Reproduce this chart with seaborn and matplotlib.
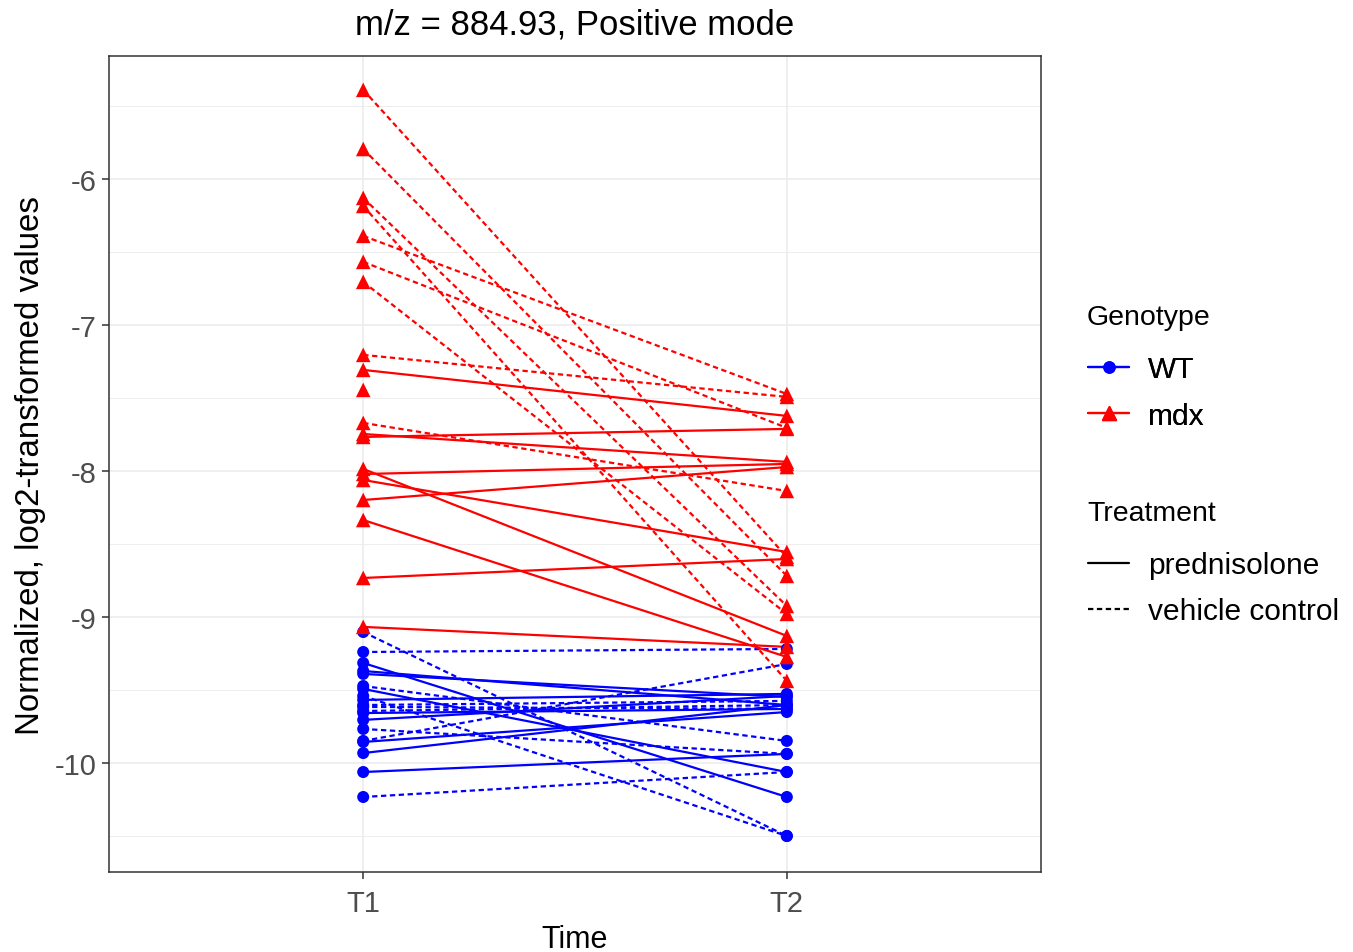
import numpy as np
import pandas as pd
import matplotlib
matplotlib.use("Agg")
import matplotlib.pyplot as plt
import seaborn as sns
from matplotlib.lines import Line2D
from matplotlib.ticker import MultipleLocator

# one value per animal at T1 and T2
times = ["T1", "T2"]
genotypes = ["WT", "mdx"]
treatments = ["prednisolone", "vehicle control"]

wt_pred_t1 = [-9.315, -9.370, -9.390, -9.493, -9.658, -9.705, -9.856, -9.932, -10.062, -9.568]
wt_pred_t2 = [-10.233, -9.603, -9.548, -10.062, -9.630, -9.541, -9.651, -9.603, -9.938, -9.527]
wt_veh_t1 = [-9.103, -9.240, -9.473, -9.541, -9.603, -9.616, -9.767, -9.849, -10.233, -9.644]
wt_veh_t2 = [-10.500, -9.219, -9.849, -10.500, -9.575, -9.630, -9.938, -9.322, -10.062, -9.603]

mdx_pred_t1 = [-7.308, -7.747, -7.767, -7.986, -8.021, -8.062, -8.199, -8.336, -8.733, -9.068]
mdx_pred_t2 = [-7.623, -7.938, -7.712, -9.130, -7.952, -8.555, -7.973, -9.274, -8.603, -9.205]
mdx_veh_t1 = [-5.390, -5.795, -6.130, -6.185, -6.390, -6.568, -6.705, -7.205, -7.671, -7.445]
mdx_veh_t2 = [-8.589, -8.719, -8.925, -9.438, -7.473, -7.705, -8.979, -7.493, -8.137, np.nan]

groups = [
    ("WT", "prednisolone", wt_pred_t1, wt_pred_t2),
    ("WT", "vehicle control", wt_veh_t1, wt_veh_t2),
    ("mdx", "prednisolone", mdx_pred_t1, mdx_pred_t2),
    ("mdx", "vehicle control", mdx_veh_t1, mdx_veh_t2),
]

rows = []
sid = 0
for geno, treat, t1, t2 in groups:
    for a, b in zip(t1, t2):
        sid += 1
        rows.append({"subject": sid, "genotype": geno, "treatment": treat, "time": times[0], "value": a})
        rows.append({"subject": sid, "genotype": geno, "treatment": treat, "time": times[1], "value": b})
df = pd.DataFrame(rows)

pal = {"WT": "#0000FF", "mdx": "#FF0000"}
dash = (2.4, 1.6)

sns.set_style("white")
plt.rcParams["font.family"] = ["Liberation Sans", "DejaVu Sans"]
plt.rcParams["axes.unicode_minus"] = False
plt.rcParams["text.color"] = "black"
plt.rcParams["axes.labelcolor"] = "black"

fig = plt.figure(figsize=(13.53, 9.53), dpi=100)
ax = fig.add_axes([0.0806, 0.0839, 0.6888, 0.8563])

sns.lineplot(data=df, x="time", y="value", hue="genotype", style="treatment",
             units="subject", estimator=None, palette=pal,
             hue_order=genotypes, style_order=treatments,
             dashes={"prednisolone": "", "vehicle control": dash},
             linewidth=1.6, legend=False, ax=ax, zorder=2)

sns.scatterplot(data=df.dropna(), x="time", y="value", hue="genotype", style="genotype",
                size="genotype", sizes={"WT": 75, "mdx": 110},
                markers={"WT": "o", "mdx": "^"}, palette=pal, hue_order=genotypes,
                linewidth=0, legend=False, ax=ax, zorder=3)

# ggplot-like theme_bw
ax.set_xlim(-0.6, 1.6)
ax.set_ylim(-10.747, -5.158)
ax.yaxis.set_major_locator(MultipleLocator(1))
ax.yaxis.set_minor_locator(MultipleLocator(0.5))
ax.grid(True, which="major", color="#EBEBEB", linewidth=1.1, zorder=0)
ax.grid(True, which="minor", axis="y", color="#EBEBEB", linewidth=0.6, zorder=0)
ax.set_axisbelow(True)
for sp in ax.spines.values():
    sp.set_color("#333333")
    sp.set_linewidth(1.1)
ax.tick_params(axis="both", which="major", length=5, width=1.1, color="#333333",
               labelsize=21, labelcolor="#4D4D4D", direction="out")
ax.tick_params(axis="x", pad=7.5)
ax.tick_params(axis="y", pad=4)
ax.tick_params(axis="y", which="minor", length=0)
ax.tick_params(left=True, bottom=True)

ax.set_xlabel("Time", fontsize=22, labelpad=5)
ax.set_ylabel("Normalized, log2-transformed values", fontsize=23.8, labelpad=6)
ax.set_title("m/z = 884.93, Positive mode", fontsize=25, pad=16)

# two legends, like ggplot (titles placed as separate text)
geno_handles = [
    Line2D([], [], color=pal["WT"], marker="o", markersize=8, linewidth=1.6, label="WT"),
    Line2D([], [], color=pal["mdx"], marker="^", markersize=10, linewidth=1.6, label="mdx"),
]
treat_handles = [
    Line2D([], [], color="black", linewidth=1.6, label="prednisolone"),
    Line2D([], [], color="black", linewidth=1.6, linestyle=(0, dash), label="vehicle control"),
]
leg_kw = dict(loc="upper left", frameon=False, fontsize=21.5,
              handlelength=1.35, handletextpad=0.65, labelspacing=0.62,
              borderpad=0, borderaxespad=0)
leg1 = fig.legend(handles=geno_handles, bbox_to_anchor=(0.8045, 0.6264), **leg_kw)
leg2 = fig.legend(handles=treat_handles, bbox_to_anchor=(0.8045, 0.4208), **leg_kw)
fig.add_artist(leg1)
fig.text(0.8034, 0.6663, "Genotype", fontsize=20.5, va="center", ha="left")
fig.text(0.8034, 0.4607, "Treatment", fontsize=20.5, va="center", ha="left")

fig.savefig("out.png", dpi=100)
